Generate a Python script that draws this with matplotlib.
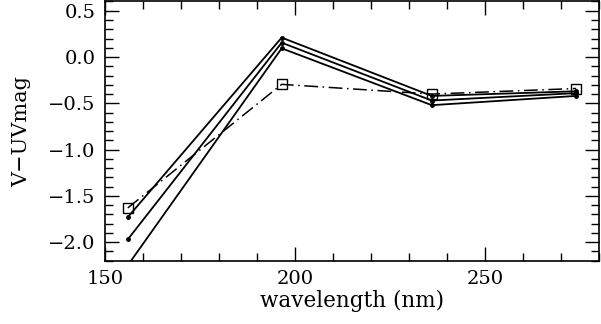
import matplotlib
matplotlib.use('Agg')
import matplotlib.pyplot as plt
from matplotlib.ticker import MultipleLocator

# Data
wavelength = [156, 196.5, 236, 274]
model_a = [-1.73, 0.21, -0.42, -0.37]
model_b = [-1.97, 0.155, -0.47, -0.39]
model_c = [-2.25, 0.094, -0.52, -0.42]
observed = [-1.63, -0.295, -0.40, -0.34]

plt.rcParams['font.family'] = 'DejaVu Serif'

fig = plt.figure(figsize=(6.01, 3.24), dpi=100)
ax = fig.add_axes([0.1747, 0.1954, 0.822, 0.80])

for y in (model_a, model_b, model_c):
    ax.plot(wavelength, y, color='black', lw=1.3, marker='o', markersize=2.5)
ax.plot(wavelength, observed, color='black', lw=1.1, linestyle=(0, (9, 3, 1, 3)),
        marker='s', markersize=7, markerfacecolor='none', markeredgewidth=1.0)

ax.set_xlim(150, 280)
ax.set_ylim(-2.2, 0.6)
ax.xaxis.set_major_locator(MultipleLocator(50))
ax.xaxis.set_minor_locator(MultipleLocator(10))
ax.yaxis.set_major_locator(MultipleLocator(0.5))
ax.yaxis.set_minor_locator(MultipleLocator(0.1))
ax.tick_params(which='both', direction='in', top=True, right=True, width=1.0)
ax.tick_params(which='major', length=10, labelsize=14, pad=7)
ax.tick_params(which='minor', length=6)
for s in ax.spines.values():
    s.set_linewidth(1.2)

ax.set_xlabel('wavelength (nm)', fontsize=15.5, labelpad=1)
ax.set_ylabel('V\u2212UVmag', fontsize=15, labelpad=12)

fig.savefig('out.png', dpi=100)
